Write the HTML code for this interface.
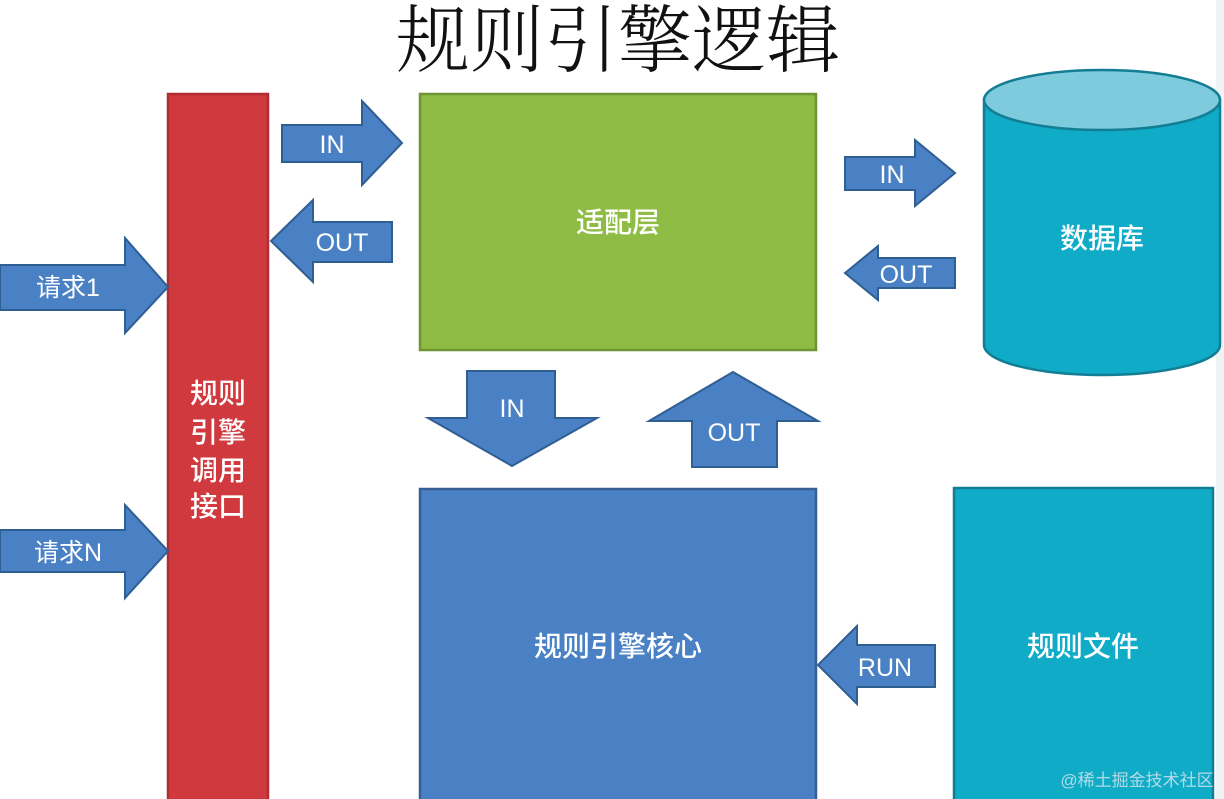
<!DOCTYPE html>
<html><head><meta charset="utf-8"><style>
html,body{margin:0;padding:0;background:#fff;}
svg{display:block;}
text{font-family:"Liberation Sans","Noto Sans CJK SC",sans-serif;fill:#fff;}
</style></head><body>
<svg width="1224" height="799" viewBox="0 0 1224 799" xmlns="http://www.w3.org/2000/svg">
<rect x="1216" y="0" width="8" height="799" fill="#eef3f4"/>
<text x="618" y="66" text-anchor="middle" font-size="74" style="fill:#111;font-family:'Noto Serif CJK SC',serif;font-weight:300">规则引擎逻辑</text>

<g stroke-width="2.5">
<rect x="168" y="94" width="100" height="710" fill="#d0393e" stroke="#b02d33"/>
<rect x="420" y="94" width="396" height="256" fill="#8fbc45" stroke="#6f9434"/>
<rect x="420" y="489" width="396" height="315" fill="#4a80c4" stroke="#355f96"/>
<rect x="954" y="488" width="259" height="316" fill="#0fabc7" stroke="#137d94"/>
<path d="M984,100 L984,345 A118,30 0 0 0 1220,345 L1220,100" fill="#0fabc7" stroke="#137d94"/>
<ellipse cx="1102" cy="100" rx="118" ry="30" fill="#7dcbdc" stroke="#137d94"/>
</g>

<g fill="#4a80c4" stroke="#2f5e93" stroke-width="2">
<polygon points="282,125 362,125 362,101 402,143 362,185 362,162 282,162"/>
<polygon points="271,241 313,200 313,222 392,222 392,262 313,262 313,282"/>
<polygon points="0,265 125,265 125,238 168,287 125,333 125,310 0,310"/>
<polygon points="0,530 125,530 125,505 168,551 125,598 125,572 0,572"/>
<polygon points="845,157 915,157 915,140 955,173 915,206 915,190 845,190"/>
<polygon points="845,273 878,246 878,258 955,258 955,288 878,288 878,300"/>
<polygon points="467,371 555,371 555,418 597,418 512,466 428,418 467,418"/>
<polygon points="733,372 818,421 777,421 777,467 692,467 692,421 649,421"/>
<polygon points="818,665 857,626 857,645 935,645 935,687 857,687 857,704"/>
</g>

<g font-size="25">
<text x="332" y="153" text-anchor="middle">IN</text>
<text x="342" y="251" text-anchor="middle">OUT</text>
<text x="68" y="296" text-anchor="middle">请求1</text>
<text x="68" y="561" text-anchor="middle">请求N</text>
<text x="892" y="183" text-anchor="middle">IN</text>
<text x="906" y="283" text-anchor="middle">OUT</text>
<text x="512" y="417" text-anchor="middle">IN</text>
<text x="734" y="441" text-anchor="middle">OUT</text>
<text x="885" y="676" text-anchor="middle">RUN</text>
</g>
<g font-size="28" text-anchor="middle" font-weight="500">
<text x="218" y="403">规则</text>
<text x="218" y="442">引擎</text>
<text x="218" y="480">调用</text>
<text x="218" y="516">接口</text>
<text x="618" y="232">适配层</text>
<text x="1102" y="248">数据库</text>
<text x="618" y="656">规则引擎核心</text>
<text x="1083" y="656">规则文件</text>
</g>
<text x="1137" y="786" text-anchor="middle" font-size="17" style="fill:#cfe3ea;opacity:0.85">@稀土掘金技术社区</text>
</svg>
</body></html>
